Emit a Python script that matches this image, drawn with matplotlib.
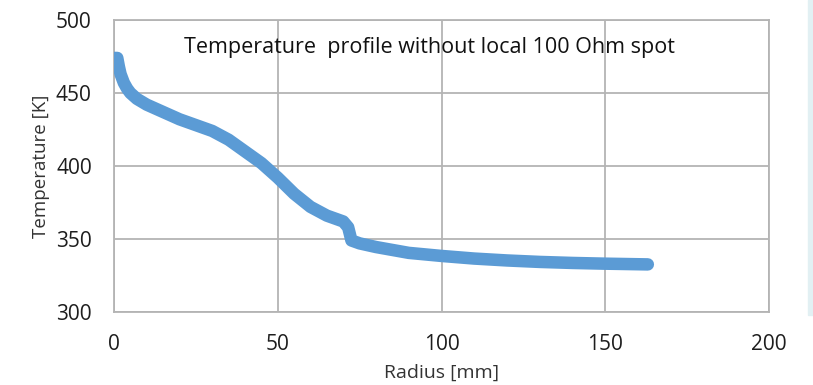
import matplotlib.pyplot as plt
from matplotlib.patches import Rectangle

# values
radius_mm = [0, 1, 1.5, 2, 3, 4, 5, 7, 10, 15, 20, 25, 30, 35, 40, 45, 50, 55,
             60, 65, 70, 71.5, 72.5, 75, 80, 90, 100, 110, 120, 130, 140, 150, 163]
temperature_k = [474, 474, 468, 463, 457, 453, 450, 446, 442, 437, 432, 428, 424,
                 418, 410, 402, 392, 381, 372, 366, 362, 358, 349, 347, 344.5, 340.5,
                 338.4, 336.6, 335.3, 334.3, 333.6, 333.1, 332.6]

x_ticks = [0, 50, 100, 150, 200]
y_ticks = [300, 350, 400, 450, 500]
title_text = "Temperature  profile without local 100 Ohm spot"

plt.rcParams['font.family'] = ['Open Sans', 'DejaVu Sans']

fig = plt.figure(figsize=(8.13, 3.85), dpi=100)
ax = fig.add_axes([114 / 813, 1 - 312 / 385, (769 - 114) / 813, (312 - 20) / 385])

ax.plot(radius_mm, temperature_k, color='#5b9bd5', lw=9,
        solid_capstyle='round', solid_joinstyle='round', zorder=3)

ax.set_xlim(0, 200)
ax.set_ylim(300, 500)
ax.set_xticks(x_ticks)
ax.set_yticks(y_ticks)
ax.grid(True, color='#b4b4b4', lw=1.3)
ax.set_axisbelow(True)
for sp in ax.spines.values():
    sp.set_color('#b4b4b4')
    sp.set_linewidth(1.3)
ax.tick_params(length=0, labelsize=15, colors='#1e1e1e', pad=16)
ax.tick_params(axis='x', pad=16)

ax.set_xlabel('Radius [mm]', fontsize=14, color='#333333', labelpad=6)
ax.set_ylabel('Temperature [K]', fontsize=13.5, color='#333333', labelpad=4)

ax.text(0.481, 0.907, title_text, transform=ax.transAxes, ha='center', va='center',
        fontsize=15.5, color='#111111')

# light strip on the right edge
fig.patches.append(Rectangle((808 / 813, 1 - 315 / 385), 5 / 813, 315 / 385,
                             transform=fig.transFigure, color='#e2f0f3', zorder=0))

fig.savefig('out.png', dpi=100)
